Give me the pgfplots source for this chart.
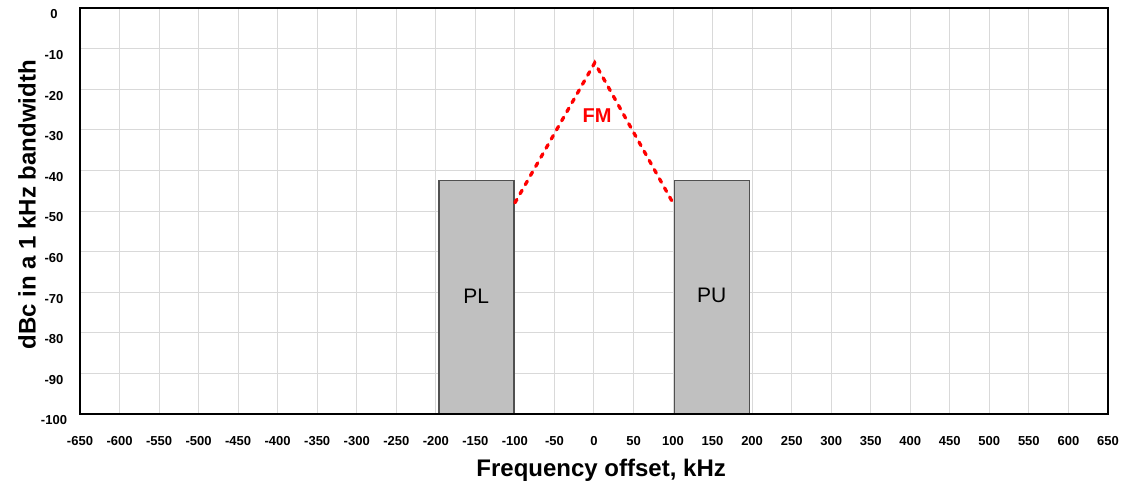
\documentclass[border=0pt]{standalone}
\usepackage{pgfplots}
\pgfplotsset{compat=1.18}
\usepackage{fontspec}
\setmainfont{Liberation Sans}
\definecolor{gridgray}{HTML}{D9D9D9}
\definecolor{barfill}{HTML}{C0C0C0}
\definecolor{barline}{HTML}{505050}
\begin{document}
\begin{tikzpicture}[x=1pt,y=1pt]
\useasboundingbox (-80,-71) rectangle (1044,414);
\begin{axis}[
  scale only axis, width=1028pt, height=406pt,
  xmin=-650, xmax=650, ymin=-100, ymax=0,
  xtick distance=50, ytick distance=10,
  grid=major, major grid style={draw=gridgray, line width=1pt},
  major tick length=0pt,
  axis line style={line width=1.6pt},
  /pgf/number format/assume math mode=true,
  /pgf/number format/1000 sep={},
  ticklabel style={font=\fontsize{13}{15}\selectfont\bfseries},
  xticklabel style={anchor=center, yshift=-27pt},
  yticklabel style={anchor=center, xshift=-26pt, yshift=-6.5pt},
  xlabel={Frequency offset, kHz},
  ylabel={dBc in a 1 kHz bandwidth},
  xlabel style={font=\fontsize{24}{28}\selectfont\bfseries, at={(axis description cs:0.507,-0.138)}, anchor=center},
  ylabel style={font=\fontsize{24}{28}\selectfont\bfseries, at={(axis description cs:-0.0516,0.515)}, anchor=center},
  clip=false,
]
% PL block
\addplot[fill=barfill, draw=barline, line width=1.3pt] coordinates {(-196,-100) (-196,-42.5) (-101,-42.5) (-101,-100) (-196,-100)};
% PU block
\addplot[fill=barfill, draw=barline, line width=1.3pt] coordinates {(102,-100) (102,-42.5) (197,-42.5) (197,-100) (102,-100)};
% FM
\addplot[red, line width=3.3pt, dash pattern=on 4pt off 6.5pt, line cap=round] coordinates {(-100,-48) (1,-13.5) (101,-48.4)};
\node[text=red, font=\fontsize{20}{24}\selectfont\bfseries] at (axis cs:4,-26.5) {FM};
\node[font=\fontsize{21}{24}\selectfont] at (axis cs:-149,-70.9) {PL};
\node[font=\fontsize{21}{24}\selectfont] at (axis cs:149,-70.9) {PU};
\draw[line width=1.6pt] (rel axis cs:0,0) rectangle (rel axis cs:1,1);
\end{axis}
\end{tikzpicture}
\end{document}
